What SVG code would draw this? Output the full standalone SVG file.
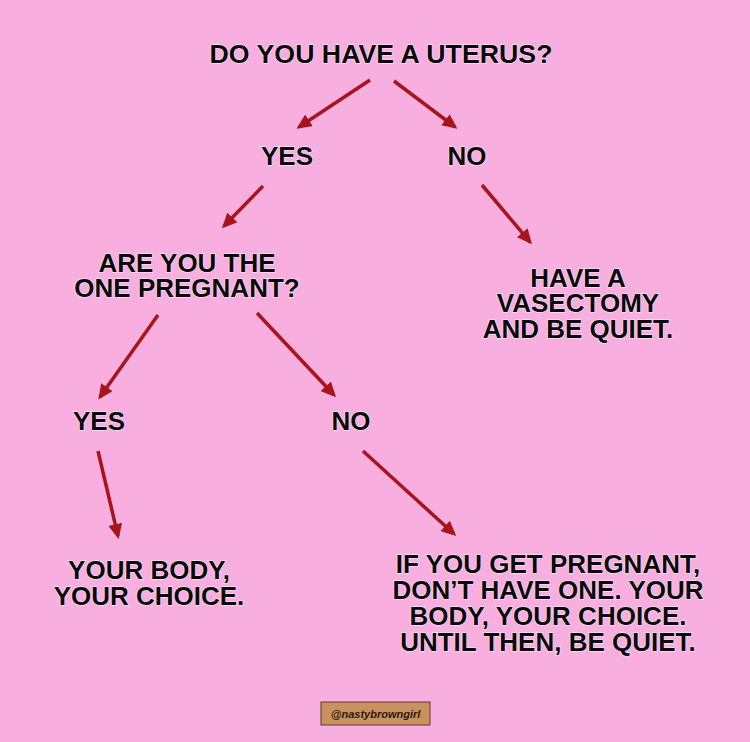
<svg xmlns="http://www.w3.org/2000/svg" width="750" height="742" viewBox="0 0 750 742">
  <style>
    .t { font-family: "Liberation Sans", Arial, sans-serif; font-weight: bold; font-size: 26px; fill: #0a0a0a; text-anchor: middle; stroke: #ffffff; stroke-width: 1.4; stroke-opacity: 0.6; paint-order: stroke; }
    .arrow { stroke: #a8141b; stroke-width: 3.5; fill: none; marker-end: url(#head); }
    .wm { font-family: "Liberation Sans", Arial, sans-serif; font-weight: bold; font-style: italic; font-size: 11px; fill: #2a1a10; text-anchor: middle; }
  </style>
  <defs>
    <marker id="head" markerUnits="userSpaceOnUse" markerWidth="16" markerHeight="14" viewBox="0 0 16 14" refX="12" refY="7" orient="auto">
      <path d="M0,0 L15,7 L0,14 Z" fill="#a8141b"/>
    </marker>
  </defs>
  <rect x="0" y="0" width="750" height="742" fill="#f8afdf"/>

  <g id="connectors">
    <line class="arrow" x1="370" y1="80" x2="299" y2="127"/>
    <line class="arrow" x1="394" y1="81" x2="455" y2="127"/>
    <line class="arrow" x1="263" y1="186" x2="224" y2="226"/>
    <line class="arrow" x1="482" y1="185" x2="530" y2="242"/>
    <line class="arrow" x1="158" y1="315" x2="100" y2="397"/>
    <line class="arrow" x1="257" y1="313" x2="334" y2="395"/>
    <line class="arrow" x1="98" y1="451" x2="118" y2="536"/>
    <line class="arrow" x1="363" y1="451" x2="454" y2="534"/>
  </g>

  <g id="q-uterus">
    <text class="t" x="381" y="63" font-size="24" textLength="343" lengthAdjust="spacingAndGlyphs">DO YOU HAVE A UTERUS?</text>
  </g>
  <g id="yes-1">
    <text class="t" x="287" y="165">YES</text>
  </g>
  <g id="no-1">
    <text class="t" x="467" y="165">NO</text>
  </g>
  <g id="q-pregnant">
    <text class="t" x="187" y="272">ARE YOU THE</text>
    <text class="t" x="187" y="297">ONE PREGNANT?</text>
  </g>
  <g id="vasectomy">
    <text class="t" x="578" y="287">HAVE A</text>
    <text class="t" x="578" y="312">VASECTOMY</text>
    <text class="t" x="578" y="338">AND BE QUIET.</text>
  </g>
  <g id="yes-2">
    <text class="t" x="99" y="430">YES</text>
  </g>
  <g id="no-2">
    <text class="t" x="351" y="430">NO</text>
  </g>
  <g id="your-body">
    <text class="t" x="149" y="579">YOUR BODY,</text>
    <text class="t" x="149" y="605">YOUR CHOICE.</text>
  </g>
  <g id="if-pregnant">
    <text class="t" x="548" y="573">IF YOU GET PREGNANT,</text>
    <text class="t" x="548" y="599">DON’T HAVE ONE. YOUR</text>
    <text class="t" x="548" y="625">BODY, YOUR CHOICE.</text>
    <text class="t" x="548" y="651">UNTIL THEN, BE QUIET.</text>
  </g>
  <g id="watermark">
    <rect x="321" y="702" width="109" height="23" fill="#c8915f" stroke="#5a3a2a" stroke-width="1"/>
    <text class="wm" x="375.5" y="717.5">@nastybrowngirl</text>
  </g>
</svg>
